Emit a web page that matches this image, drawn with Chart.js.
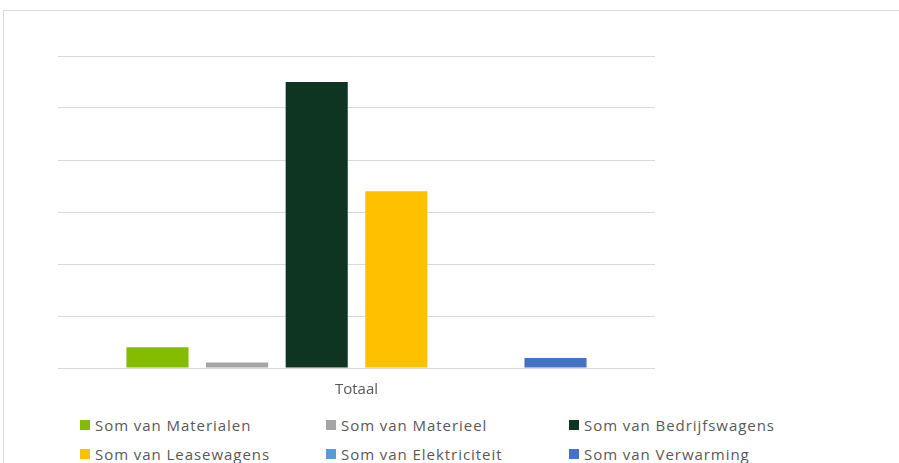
<!DOCTYPE html>
<html>
<head>
<meta charset="utf-8">
<script src="https://cdn.jsdelivr.net/npm/chart.js@4"></script>
<style>
    body { margin: 0; background: #fff; width: 899px; height: 463px; overflow: hidden; position: relative; font-family: 'Open Sans', sans-serif; }
    .frame { position: absolute; left: 3px; top: 10px; width: 1000px; height: 1000px; border: 1px solid #d9d9d9; }
    .chart-box { position: absolute; left: 58px; top: 50px; width: 597px; height: 362px; }
    .legend { position: absolute; left: 80px; top: 415px; width: 760px; }
    .legend-item { position: absolute; display: flex; align-items: center; font-size: 15px; color: #595959; white-space: nowrap; letter-spacing: 0.95px; }
    .legend-item i { display: inline-block; width: 10px; height: 10px; margin-right: 5px; }
</style>
</head>
<body>
<div class="frame"></div>
<div class="chart-box"><canvas id="barChart"></canvas></div>
<div class="legend" id="legend"></div>
<script>
// Chart data
const categories = ['Totaal'];
const seriesNames = ['Som van Materialen', 'Som van Materieel', 'Som van Bedrijfswagens', 'Som van Leasewagens', 'Som van Elektriciteit', 'Som van Verwarming'];
const seriesValues = [4000, 1050, 55000, 34000, 0, 1900];
const seriesColors = ['#84bc00', '#a5a5a5', '#0d3521', '#ffc000', '#5b9bd5', '#4472c4'];
const yMax = 60000;
const yStep = 10000;

document.addEventListener('DOMContentLoaded', function() {
    const datasets = seriesNames.map((name, i) => ({
        label: name,
        data: [seriesValues[i]],
        backgroundColor: seriesColors[i],
        categoryPercentage: 0.8,
        barPercentage: 0.78
    }));

    new Chart(document.getElementById('barChart'), {
        type: 'bar',
        data: { labels: categories, datasets: datasets },
        options: {
            responsive: true,
            maintainAspectRatio: false,
            animation: false,
            layout: { padding: { top: 6, left: 0, right: 0, bottom: 0 } },
            plugins: {
                legend: { display: false },
                tooltip: { enabled: false }
            },
            scales: {
                x: {
                    grid: { display: false, drawTicks: false },
                    border: { display: true, color: '#d9d9d9', width: 1 },
                    ticks: {
                        color: '#595959',
                        padding: 13,
                        font: { family: "'Open Sans', sans-serif", size: 15 }
                    }
                },
                y: {
                    min: 0,
                    max: yMax,
                    grid: { color: '#d9d9d9', drawTicks: false },
                    border: { display: false },
                    ticks: { display: false, stepSize: yStep }
                }
            }
        }
    });

    // legend, two rows of three
    const legend = document.getElementById('legend');
    const colX = [0, 246, 489];
    seriesNames.forEach((name, i) => {
        const item = document.createElement('div');
        item.className = 'legend-item';
        item.style.left = colX[i % 3] + 'px';
        item.style.top = (Math.floor(i / 3) * 29) + 'px';
        item.innerHTML = `<i style="background:${seriesColors[i]}"></i>${name}`;
        legend.appendChild(item);
    });
});
</script>
</body>
</html>
